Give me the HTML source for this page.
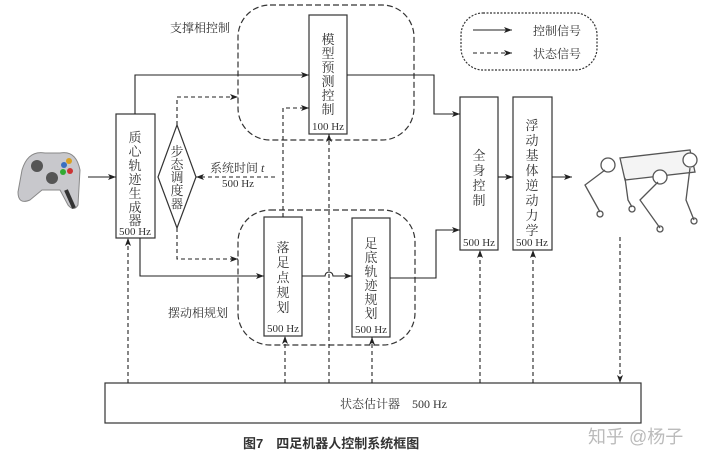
<!DOCTYPE html>
<html><head><meta charset="utf-8"><style>
body{margin:0;background:#fff;}
svg text{font-family:"Liberation Serif","Noto Serif CJK SC",serif;fill:#333;}
</style></head><body>
<svg width="720" height="468" viewBox="0 0 720 468" xmlns="http://www.w3.org/2000/svg">
<defs>
<marker id="a" markerWidth="8" markerHeight="6" refX="8" refY="3" orient="auto" markerUnits="userSpaceOnUse"><path d="M0,0 L8,3 L0,6 L2,3z" fill="#222"/></marker>
</defs>
<g fill="none" stroke="#333" stroke-width="1.2">
<rect x="238" y="5" width="176" height="135" rx="32" stroke-dasharray="6,3"/>
<rect x="238" y="210" width="177" height="135" rx="32" stroke-dasharray="6,3"/>
<rect x="461" y="13" width="136" height="57" rx="22" stroke-dasharray="2,1.5"/>
<rect x="116" y="114" width="39" height="124" fill="#fff"/>
<path d="M177,125 L196,177 L177,228 L158,177 Z" fill="#fff"/>
<rect x="309" y="15" width="38" height="119" fill="#fff"/>
<rect x="264" y="217" width="38" height="119" fill="#fff"/>
<rect x="352" y="218" width="38" height="119" fill="#fff"/>
<rect x="460" y="97" width="38" height="153" fill="#fff"/>
<rect x="513" y="97" width="39" height="153" fill="#fff"/>
<rect x="105" y="383" width="536" height="40" fill="#fff"/>
</g>
<g fill="none" stroke="#222" stroke-width="1.1">
<path d="M88,177 H116" marker-end="url(#a)"/>
<path d="M135,114 V75 H309" marker-end="url(#a)"/>
<path d="M347,75 H434 V114 H460" marker-end="url(#a)"/>
<path d="M140,238 V276 H264" marker-end="url(#a)"/>
<path d="M302,276 H325 A4,4 0 0 1 333,276 H352" marker-end="url(#a)"/>
<path d="M390,278 H436 V230 H460" marker-end="url(#a)"/>
<path d="M498,177 H513" marker-end="url(#a)"/>
<path d="M552,177 H572" marker-end="url(#a)"/>
<path d="M473,30 H512" marker-end="url(#a)"/>
</g>
<g fill="none" stroke="#222" stroke-width="1.1" stroke-dasharray="4,3">
<path d="M177,125 V97 H238" marker-end="url(#a)"/>
<path d="M283,217 V108 H309" marker-end="url(#a)"/>
<path d="M275,177 H196" marker-end="url(#a)"/>
<path d="M177,228 V259 H238" marker-end="url(#a)"/>
<path d="M128,383 V238" marker-end="url(#a)"/>
<path d="M285,383 V336" marker-end="url(#a)"/>
<path d="M372,383 V337" marker-end="url(#a)"/>
<path d="M329,383 V134" marker-end="url(#a)"/>
<path d="M480,383 V250" marker-end="url(#a)"/>
<path d="M533,383 V250" marker-end="url(#a)"/>
<path d="M620,237 V383" marker-end="url(#a)"/>
<path d="M473,53 H512" marker-end="url(#a)"/>
</g>
<g font-size="13" text-anchor="middle">
<text x="135" y="142">质</text><text x="135" y="156">心</text><text x="135" y="170">轨</text><text x="135" y="184">迹</text><text x="135" y="198">生</text><text x="135" y="212">成</text><text x="135" y="225">器</text>
<text x="177" y="156">步</text><text x="177" y="169">态</text><text x="177" y="182">调</text><text x="177" y="195">度</text><text x="177" y="208" font-size="12">器</text>
<text x="328" y="44">模</text><text x="328" y="58">型</text><text x="328" y="72">预</text><text x="328" y="86">测</text><text x="328" y="100">控</text><text x="328" y="114">制</text>
<text x="283" y="252">落</text><text x="283" y="267">足</text><text x="283" y="282">点</text><text x="283" y="297">规</text><text x="283" y="312">划</text>
<text x="371" y="248">足</text><text x="371" y="262">底</text><text x="371" y="276">轨</text><text x="371" y="290">迹</text><text x="371" y="304">规</text><text x="371" y="318">划</text>
<text x="479" y="160">全</text><text x="479" y="175">身</text><text x="479" y="190">控</text><text x="479" y="205">制</text>
<text x="532" y="130">浮</text><text x="532" y="145">动</text><text x="532" y="160">基</text><text x="532" y="175">体</text><text x="532" y="190">逆</text><text x="532" y="205">动</text><text x="532" y="220">力</text><text x="532" y="235">学</text>
</g>
<g font-size="11" text-anchor="middle">
<text x="328" y="130">100 Hz</text>
<text x="283" y="332">500 Hz</text>
<text x="371" y="333">500 Hz</text>
<text x="479" y="246">500 Hz</text>
<text x="532" y="246">500 Hz</text>
<text x="135" y="235">500 Hz</text>
<text x="238" y="187">500 Hz</text>
</g>
<g font-size="12">
<text x="210" y="172">系统时间 <tspan font-style="italic">t</tspan></text>
<text x="170" y="32">支撑相控制</text>
<text x="168" y="317">摆动相规划</text>
<text x="533" y="35">控制信号</text>
<text x="533" y="58">状态信号</text>
<text x="340" y="408">状态估计器　500 Hz</text>
</g>
<text x="243" y="448" font-size="13" font-weight="bold" style="font-family:'Liberation Sans','Noto Sans CJK SC',sans-serif" fill="#111">图7　四足机器人控制系统框图</text>
<text x="588" y="443" font-size="18" style="font-family:'Liberation Sans','Noto Sans CJK SC',sans-serif;fill:#bbb">知乎 @杨子</text>
<g>
<path d="M22,170 Q28,150 45,153 L60,153 Q76,150 80,170 L78,205 Q74,212 68,205 L60,190 L42,190 L30,200 Q18,205 18,192 Z" fill="#c8c8cc" stroke="#888"/>
<circle cx="37" cy="166" r="6" fill="#555"/><circle cx="52" cy="178" r="6" fill="#555"/>
<circle cx="64" cy="165" r="3" fill="#3a6fc0"/><circle cx="70" cy="171" r="3" fill="#c33"/><circle cx="69" cy="161" r="3" fill="#d9a020"/><circle cx="63" cy="172" r="3" fill="#3a3"/>
<path d="M66,190 L74,208" stroke="#333" stroke-width="4"/>
</g>
<g fill="none" stroke="#555" stroke-width="1.3">
<path d="M620,158 L690,150 L695,172 L625,180 Z" fill="#f4f4f4"/>
<circle cx="608" cy="165" r="7" fill="#fff"/><circle cx="690" cy="160" r="7" fill="#fff"/>
<circle cx="660" cy="177" r="7" fill="#fff"/>
<path d="M605,170 L585,185 L600,212"/><path d="M625,178 L628,200 L632,207"/>
<path d="M658,182 L640,200 L660,228"/><path d="M690,168 L686,200 L694,220"/>
<circle cx="600" cy="214" r="3"/><circle cx="632" cy="209" r="3"/><circle cx="660" cy="229" r="3"/><circle cx="694" cy="221" r="3"/>
</g>
</svg>
</body></html>
